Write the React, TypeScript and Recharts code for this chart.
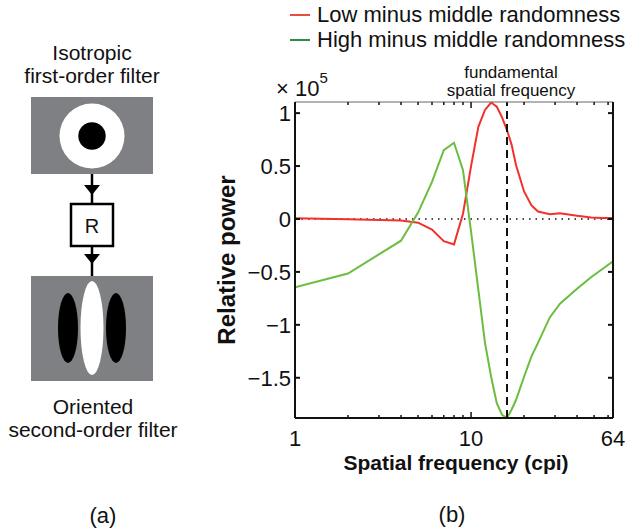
import { LineChart, Line, XAxis, YAxis, ReferenceLine } from "recharts";

// ─── Data ────────────────────────────────────────────────────────────────────

const FREQS = [1, 2, 4, 5, 6, 7, 8, 9, 10, 11, 12, 13, 14, 15, 16, 17, 18, 20, 22, 24, 28, 32, 40, 48, 56, 64];
const LOW_MINUS_MIDDLE = [
  0.007, -0.003, -0.015, -0.035, -0.1, -0.21, -0.24, 0.05, 0.5, 0.87, 1.03, 1.1, 1.06, 0.96, 0.84, 0.7,
  0.51, 0.26, 0.13, 0.07, 0.045, 0.055, 0.03, 0.015, 0.01, 0.01,
];
const HIGH_MINUS_MIDDLE = [
  -0.645, -0.515, -0.205, 0.06, 0.35, 0.65, 0.72, 0.46, -0.12, -0.67, -1.17, -1.49, -1.74, -1.85, -1.88,
  -1.8, -1.71, -1.49, -1.3, -1.17, -0.93, -0.8, -0.66, -0.55, -0.47, -0.4,
];

const X_TICKS = [1, 2, 3, 4, 5, 6, 7, 8, 9, 10, 20, 30, 40, 50, 60, 64];
const X_LABELS = [1, 10, 64];
const Y_TICKS = [-1.5, -1, -0.5, 0, 0.5, 1];
const FUNDAMENTAL = 16;

const SERIES = [
  { key: "low", label: "Low minus middle randomness", color: "#f2302c", legend: "#ef4a3f" },
  { key: "high", label: "High minus middle randomness", color: "#6bbd3f", legend: "#2f8a48" },
];

const data = FREQS.map((f, i) => ({
  f,
  low: LOW_MINUS_MIDDLE[i],
  high: HIGH_MINUS_MIDDLE[i],
}));

const FONT = "'Liberation Sans', Arial, Helvetica, sans-serif";
const INK = "#111";

// ─── Ticks ───────────────────────────────────────────────────────────────────

function fmtY(v: number): string {
  return v < 0 ? `\u2212${Math.abs(v)}` : String(v);
}

function BottomTick(props: any) {
  const { x, y, payload } = props;
  const major = X_LABELS.includes(payload.value);
  return (
    <g>
      <line x1={x} y1={y} x2={x} y2={y - (major ? 6 : 3)} stroke={INK} strokeWidth={1.5} />
      {major && (
        <text x={x} y={y + 28} textAnchor="middle" fontSize={22} fill={INK} fontFamily={FONT}>
          {payload.value}
        </text>
      )}
    </g>
  );
}

function TopTick(props: any) {
  const { x, y, payload } = props;
  const major = X_LABELS.includes(payload.value);
  return <line x1={x} y1={y} x2={x} y2={y + (major ? 6 : 3)} stroke={INK} strokeWidth={1.5} />;
}

function LeftTick(props: any) {
  const { x, y, payload } = props;
  return (
    <g>
      <line x1={x} y1={y} x2={x + 5} y2={y} stroke={INK} strokeWidth={2} />
      <text x={x - 4} y={y + 8} textAnchor="end" fontSize={22} fill={INK} fontFamily={FONT}>
        {fmtY(payload.value)}
      </text>
    </g>
  );
}

function RightTick(props: any) {
  const { x, y } = props;
  return <line x1={x} y1={y} x2={x - 5} y2={y} stroke={INK} strokeWidth={2} />;
}

function FundamentalLabel(props: any) {
  const { viewBox } = props;
  const cx = viewBox.x + 4;
  return (
    <text textAnchor="middle" fontSize={17} fill={INK} fontFamily={FONT}>
      <tspan x={cx} y={viewBox.y - 24}>fundamental</tspan>
      <tspan x={cx} y={viewBox.y - 6}>spatial frequency</tspan>
    </text>
  );
}

// ─── Panel (a): filter diagram ───────────────────────────────────────────────

function FilterDiagram() {
  const gray = "#7f8083";
  return (
    <svg width={200} height={531} style={{ position: "absolute", left: 0, top: 0 }} fontFamily={FONT}>
      <text x={92} y={60} textAnchor="middle" fontSize={21} fill={INK}>Isotropic</text>
      <text x={92} y={83} textAnchor="middle" fontSize={21} fill={INK}>first-order filter</text>

      <rect x={31} y={97} width={122} height={77} fill={gray} />
      <circle cx={92} cy={136} r={32.5} fill="#fff" />
      <circle cx={92} cy={136} r={13.7} fill="#000" />

      <line x1={92} y1={174} x2={92} y2={204} stroke="#000" strokeWidth={2.5} />
      <polygon points="84,185 100,185 92,195" fill="#000" />
      <rect x={71} y={204} width={42} height={42} fill="#fff" stroke="#000" strokeWidth={2.5} />
      <text x={92} y={233} textAnchor="middle" fontSize={20} fill={INK}>R</text>
      <line x1={92} y1={246} x2={92} y2={276} stroke="#000" strokeWidth={2.5} />
      <polygon points="84,254 100,254 92,264" fill="#000" />

      <rect x={31} y={276} width={122} height={105} fill={gray} />
      <ellipse cx={68} cy={328} rx={10} ry={35} fill="#000" />
      <ellipse cx={116} cy={328} rx={10} ry={35} fill="#000" />
      <ellipse cx={92} cy={328} rx={11.5} ry={47} fill="#fff" />

      <text x={93} y={414} textAnchor="middle" fontSize={21} fill={INK}>Oriented</text>
      <text x={93} y={437} textAnchor="middle" fontSize={21} fill={INK}>second-order filter</text>

      <text x={103} y={523} textAnchor="middle" fontSize={22} fill={INK}>(a)</text>
    </svg>
  );
}

// ─── Main ────────────────────────────────────────────────────────────────────

export default function App() {
  return (
    <div
      style={{
        position: "absolute",
        left: 0,
        top: 0,
        width: 630,
        height: 531,
        background: "#fff",
        fontFamily: FONT,
        color: INK,
      }}
    >
      <FilterDiagram />

      <div style={{ position: "absolute", left: 0, top: 0 }}>
        <LineChart width={630} height={531} data={data} margin={{ top: 92, right: 7, bottom: 73, left: 235 }}>
          <XAxis
            dataKey="f"
            type="number"
            scale="log"
            domain={[1, 64]}
            allowDataOverflow
            ticks={X_TICKS}
            interval={0}
            tickSize={0}
            tickMargin={0}
            tick={(p: any) => <BottomTick {...p} />}
            tickLine={false}
            axisLine={{ stroke: INK, strokeWidth: 2 }}
            height={40}
          />
          <XAxis
            xAxisId="top"
            orientation="top"
            dataKey="f"
            type="number"
            scale="log"
            domain={[1, 64]}
            allowDataOverflow
            ticks={X_TICKS}
            interval={0}
            tickSize={0}
            tickMargin={0}
            tick={(p: any) => <TopTick {...p} />}
            tickLine={false}
            axisLine={{ stroke: "#666", strokeWidth: 1 }}
            height={10}
          />
          <YAxis
            type="number"
            domain={[-1.88, 1.105]}
            allowDataOverflow
            ticks={Y_TICKS}
            interval={0}
            tickSize={0}
            tickMargin={0}
            tick={(p: any) => <LeftTick {...p} />}
            tickLine={false}
            axisLine={{ stroke: INK, strokeWidth: 2 }}
            width={60}
          />
          <YAxis
            yAxisId="right"
            orientation="right"
            type="number"
            domain={[-1.88, 1.105]}
            allowDataOverflow
            ticks={Y_TICKS}
            interval={0}
            tickSize={0}
            tickMargin={0}
            tick={(p: any) => <RightTick {...p} />}
            tickLine={false}
            axisLine={{ stroke: INK, strokeWidth: 2 }}
            width={10}
          />

          {/* zero baseline, dotted */}
          <ReferenceLine y={0} stroke={INK} strokeWidth={1.5} strokeDasharray="1.5 5" />

          {SERIES.map((s) => (
            <Line
              key={s.key}
              dataKey={s.key}
              type="linear"
              stroke={s.color}
              strokeWidth={2}
              dot={false}
              activeDot={false}
              isAnimationActive={false}
            />
          ))}

          {/* fundamental frequency marker */}
          <ReferenceLine
            x={FUNDAMENTAL}
            stroke={INK}
            strokeWidth={2}
            strokeDasharray="8 5"
            label={(p: any) => <FundamentalLabel {...p} />}
          />
        </LineChart>
      </div>

      {/* Legend */}
      <div style={{ position: "absolute", left: 290, top: 2, fontSize: 22, lineHeight: "25px" }}>
        {SERIES.map((s) => (
          <div key={s.key} style={{ display: "flex", alignItems: "center", whiteSpace: "nowrap" }}>
            <span style={{ display: "inline-block", width: 20, height: 2, background: s.legend, marginRight: 7 }} />
            <span>{s.label}</span>
          </div>
        ))}
      </div>

      {/* exponent */}
      <div style={{ position: "absolute", left: 276, top: 76, fontSize: 22, whiteSpace: "nowrap" }}>
        × 10<sup style={{ fontSize: 15, verticalAlign: "top", position: "relative", top: -7 }}>5</sup>
      </div>

      {/* y axis title */}
      <div
        style={{
          position: "absolute",
          left: 227,
          top: 260,
          transform: "translate(-50%, -50%) rotate(-90deg)",
          fontSize: 24,
          fontWeight: "bold",
          whiteSpace: "nowrap",
        }}
      >
        Relative power
      </div>

      {/* x axis title */}
      <div
        style={{
          position: "absolute",
          left: 456,
          top: 462,
          transform: "translate(-50%, -50%)",
          fontSize: 21,
          lineHeight: 1,
          fontWeight: "bold",
          whiteSpace: "nowrap",
        }}
      >
        Spatial frequency (cpi)
      </div>

      <div style={{ position: "absolute", left: 452, top: 515, transform: "translate(-50%, -50%)", fontSize: 22 }}>
        (b)
      </div>
    </div>
  );
}
